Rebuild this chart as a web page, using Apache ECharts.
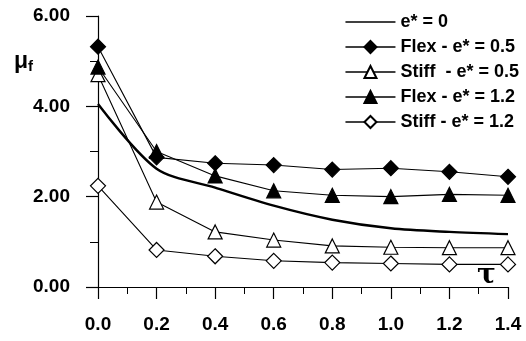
<!DOCTYPE html>
<html>
<head>
<meta charset="utf-8">
<script src="https://cdn.jsdelivr.net/npm/echarts@6/dist/echarts.min.js"></script>
<style>
  html, body { margin: 0; padding: 0; background: #fff; }
  #chart { width: 526px; height: 341px; }
</style>
</head>
<body>
<div id="chart"></div>
<script>
// tau values
const tau = [0.0, 0.2, 0.4, 0.6, 0.8, 1.0, 1.2, 1.4];
const rigid = [4.05, 2.62, 2.2, 1.8, 1.49, 1.3, 1.22, 1.17];
const flex05 = [5.32, 2.87, 2.74, 2.7, 2.6, 2.63, 2.55, 2.44];
const stiff05 = [4.7, 1.88, 1.22, 1.04, 0.91, 0.88, 0.87, 0.87];
const flex12 = [4.87, 3.0, 2.46, 2.13, 2.03, 2.0, 2.05, 2.03];
const stiff12 = [2.24, 0.82, 0.68, 0.58, 0.54, 0.52, 0.5, 0.5];

const font = '"Liberation Sans", Arial, sans-serif';
const pairs = ys => tau.map((t, i) => [t, ys[i]]);

const myChart = echarts.init(document.getElementById('chart'));

const markerSeries = function (name, ys, symbol, filled, size) {
  return {
    name: name,
    type: 'line',
    data: pairs(ys),
    symbol: symbol,
    symbolSize: size,
    showAllSymbol: true,
    lineStyle: { color: '#000', width: 1.1 },
    itemStyle: {
      color: filled ? '#000' : '#fff',
      borderColor: '#000',
      borderWidth: 1.2
    },
    z: 3
  };
};

myChart.setOption({
  animation: false,
  grid: { left: 98, right: 18, top: 16, bottom: 54 },
  legend: {
    orient: 'vertical',
    right: 2,
    top: 8,
    itemWidth: 50,
    itemHeight: 15,
    itemGap: 7,
    lineStyle: { width: 1.3 },
    textStyle: { fontFamily: font, fontWeight: 'bold', fontSize: 18, color: '#000' },
    data: [
      { name: 'e* = 0', itemStyle: { opacity: 0 } },
      'Flex - e* = 0.5',
      'Stiff  - e* = 0.5',
      'Flex - e* = 1.2',
      'Stiff - e* = 1.2'
    ]
  },
  xAxis: {
    type: 'value',
    min: 0,
    max: 1.4,
    interval: 0.2,
    axisLine: { lineStyle: { color: '#000', width: 1.2 } },
    axisTick: { length: 12, lineStyle: { color: '#000', width: 1.2 } },
    minorTick: { show: true, splitNumber: 2, length: 7, lineStyle: { color: '#000' } },
    splitLine: { show: false },
    axisLabel: {
      margin: 28,
      color: '#000',
      fontFamily: font,
      fontWeight: 'bold',
      fontSize: 19,
      formatter: v => v.toFixed(1)
    }
  },
  yAxis: {
    type: 'value',
    min: 0,
    max: 6,
    interval: 2,
    axisLine: { show: true, lineStyle: { color: '#000', width: 1.2 } },
    axisTick: { show: true, length: 12, lineStyle: { color: '#000', width: 1.2 } },
    minorTick: { show: true, splitNumber: 2, length: 8, lineStyle: { color: '#000' } },
    splitLine: { show: false },
    axisLabel: {
      margin: 28,
      color: '#000',
      fontFamily: font,
      fontWeight: 'bold',
      fontSize: 19,
      formatter: v => v.toFixed(2)
    }
  },
  graphic: [
    {
      type: 'text',
      left: 14,
      top: 50,
      style: {
        text: '{a|μ}{b|f}',
        rich: {
          a: { fontFamily: font, fontSize: 23, fontWeight: 'bold', fill: '#000' },
          b: { fontFamily: font, fontSize: 15, fontWeight: 'bold', fill: '#000', verticalAlign: 'bottom', padding: [10, 0, 0, 0] }
        }
      }
    },
    {
      type: 'text',
      left: 477,
      top: 262,
      style: { text: 'τ', fontFamily: '"DejaVu Serif", serif', fontSize: 28, fontWeight: 'bold', fill: '#000' }
    }
  ],
  series: [
    {
      name: 'e* = 0',
      type: 'line',
      data: pairs(rigid),
      smooth: 0.3,
      symbol: 'none',
      lineStyle: { color: '#000', width: 2.4 },
      itemStyle: { color: '#000' },
      z: 2
    },
    markerSeries('Flex - e* = 0.5', flex05, 'diamond', true, 15),
    markerSeries('Stiff  - e* = 0.5', stiff05, 'triangle', false, 14),
    markerSeries('Flex - e* = 1.2', flex12, 'triangle', true, 14),
    markerSeries('Stiff - e* = 1.2', stiff12, 'diamond', false, 15)
  ]
});
</script>
</body>
</html>
